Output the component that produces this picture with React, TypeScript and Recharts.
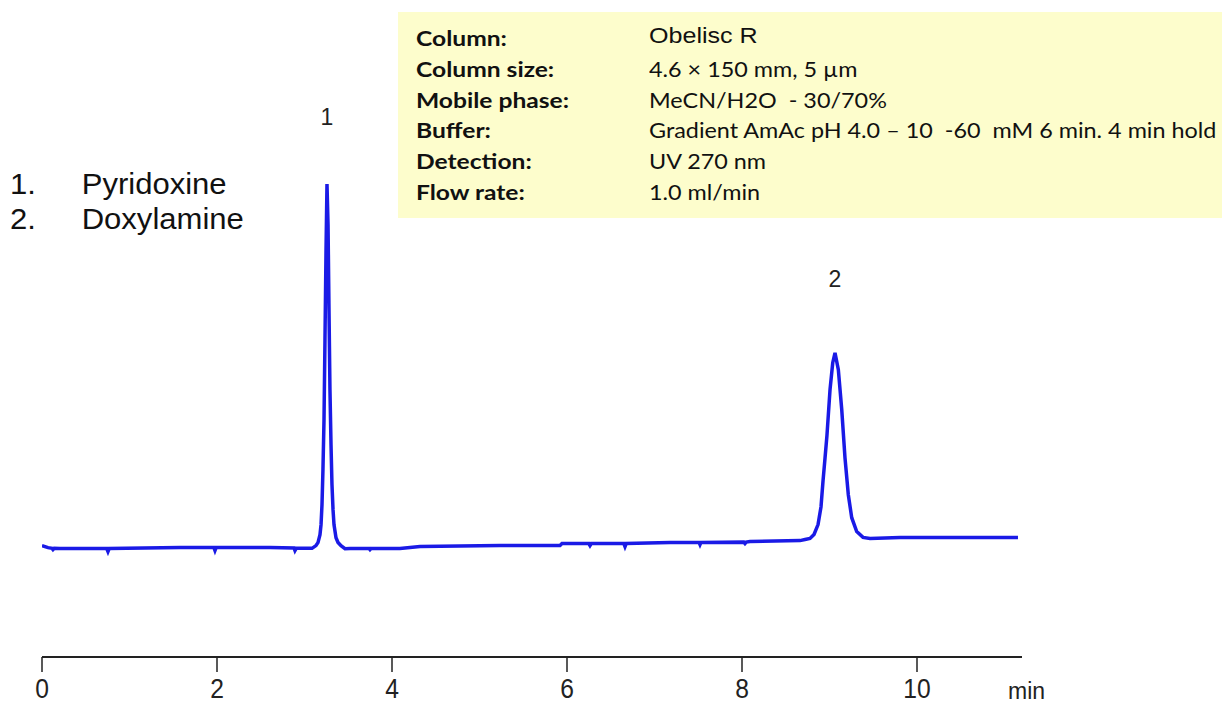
import React from 'react';
import { LineChart, Line, XAxis, YAxis, ReferenceDot } from 'recharts';

// retention time (min) and detector signal
const times = [
  0, 0.069, 0.115, 0.126, 0.14, 0.206, 0.74, 0.754, 0.768, 1.577, 1.965, 1.977, 1.99, 2.606, 2.88, 2.891, 2.905,
  3.086, 3.131, 3.154, 3.177, 3.189, 3.2, 3.211, 3.223, 3.234, 3.246, 3.257, 3.269, 3.28, 3.291, 3.303, 3.314,
  3.326, 3.337, 3.36, 3.383, 3.417, 3.463, 3.52, 3.74, 3.749, 3.76, 4.091, 4.32, 5.234, 5.92, 5.943, 6.25,
  6.263, 6.277, 6.65, 6.663, 6.677, 7.177, 7.51, 7.52, 7.53, 8.02, 8.034, 8.048, 8.091, 8.663, 8.72, 8.777,
  8.823, 8.869, 8.903, 8.926, 8.949, 8.971, 9.006, 9.037, 9.063, 9.101, 9.14, 9.177, 9.215, 9.254, 9.311,
  9.383, 9.463, 9.806, 10.49, 11.154,
];
const signal = [
  0.55, 0, -0.2, -0.55, -0.2, -0.27, -0.27, -1.1, -0.27, 0, 0, -0.8, 0, 0, -0.1, -0.8, -0.2,
  -0.2, 0.55, 1.37, 3.56, 6.3, 11.8, 21.4, 35.1, 57.0, 81.6, 99.7, 88.5, 65.2, 43.3, 28.2, 17.3,
  10.4, 6.3, 2.7, 1.4, 0.5, -0.3, -0.27, -0.27, -0.55, -0.27, -0.27, 0.27, 0.55, 0.55, 1.1, 1.1,
  0.55, 1.1, 1.1, 0.27, 1.1, 1.37, 1.37, 0.82, 1.37, 1.5, 1.1, 1.5, 1.64, 1.92, 2.2, 2.5,
  3.6, 6.3, 11.2, 18.3, 24.6, 30.8, 43.3, 50.7, 53.4, 48.8, 37.8, 24.6, 14.5, 8.2, 4.4,
  2.8, 2.5, 2.74, 2.74, 2.74,
];

const xTicks = [0, 2, 4, 6, 8, 10];

const peaks = [
  { label: '1', t: 3.257, h: 99.7, off: 59 },
  { label: '2', t: 9.063, h: 53.4, off: 66 },
];
const compounds = ['Pyridoxine', 'Doxylamine'];

const condLabels = ['Column:', 'Column size:', 'Mobile phase:', 'Buffer:', 'Detection:', 'Flow rate:'];
const condValues = [
  'Obelisc R',
  '4.6 \u00d7 150 mm, 5 \u00b5m',
  'MeCN/H2O  - 30/70%',
  'Gradient AmAc pH 4.0 \u2013 10  -60  mM 6 min. 4 min hold',
  'UV 270 nm',
  '1.0 ml/min',
];

const data = times.map((t, i) => ({ t, v: signal[i] }));

const TimeTick = (props: any) => {
  const { x, y, payload } = props;
  return (
    <g transform={`translate(${x},${y})`}>
      <text x={0} y={0} dy="0.71em" textAnchor="middle" transform="scale(0.88,1)"
        fontFamily="Liberation Sans, Arial, sans-serif" fontSize={28} fill="#222">
        {payload.value}
      </text>
    </g>
  );
};

export default function App() {
  return (
    <div style={{ position: 'absolute', left: 0, top: 0, width: 1222, height: 704, background: '#fff', fontFamily: 'Liberation Sans, Arial, sans-serif' }}>
      <LineChart width={1222} height={704} data={data} margin={{ top: 110, right: 200, bottom: 7, left: 42 }}>
        <XAxis dataKey="t" type="number" domain={[0, 11.2]} ticks={xTicks} allowDataOverflow
          height={40} tickSize={15} tickMargin={6} tick={<TimeTick />}
          axisLine={{ stroke: '#222', strokeWidth: 2 }} tickLine={{ stroke: '#222', strokeWidth: 1.5 }} />
        <YAxis type="number" domain={[-30, 120]} hide allowDataOverflow />
        <Line dataKey="v" type="linear" stroke="#1a1ae6" strokeWidth={3.5} dot={false} isAnimationActive={false} />
        {peaks.map(p => (
          <ReferenceDot key={p.label} x={p.t} y={p.h} r={0} ifOverflow="visible"
            label={{ value: p.label, position: 'top', offset: p.off, fontSize: 23, fill: '#222' }} />
        ))}
      </LineChart>

      <div style={{ position: 'absolute', left: 1008, top: 678, fontSize: 23, color: '#222' }}>min</div>

      {compounds.map((c, i) => (
        <div key={c} style={{ position: 'absolute', left: 10, top: 168 + i * 35, fontSize: 29, color: '#111', whiteSpace: 'nowrap', transform: 'scaleX(1.07)', transformOrigin: 'left top' }}>
          <span style={{ display: 'inline-block', width: 67 }}>{i + 1}.</span>{c}
        </div>
      ))}

      <div style={{ position: 'absolute', left: 398, top: 12, width: 824, height: 206, background: '#fdfdcc' }}>
        {condLabels.map((l, i) => (
          <div key={l} style={{ position: 'absolute', left: 18, top: 14 + i * 30.8, fontFamily: 'Lato, sans-serif', fontWeight: 700, fontSize: 20, color: '#111', whiteSpace: 'pre', transform: 'scaleX(1.23)', transformOrigin: 'left top' }}>{l}</div>
        ))}
        {condValues.map((v, i) => (
          <div key={i} style={{ position: 'absolute', left: 251, top: (i === 0 ? 11 : 14) + i * 30.8, fontFamily: i === 0 ? 'Liberation Sans, sans-serif' : 'Lato, sans-serif', fontSize: i === 0 ? 22 : 20.5, color: '#111', whiteSpace: 'pre', transform: 'scaleX(1.14)', transformOrigin: 'left top' }}>{v}</div>
        ))}
      </div>
    </div>
  );
}
